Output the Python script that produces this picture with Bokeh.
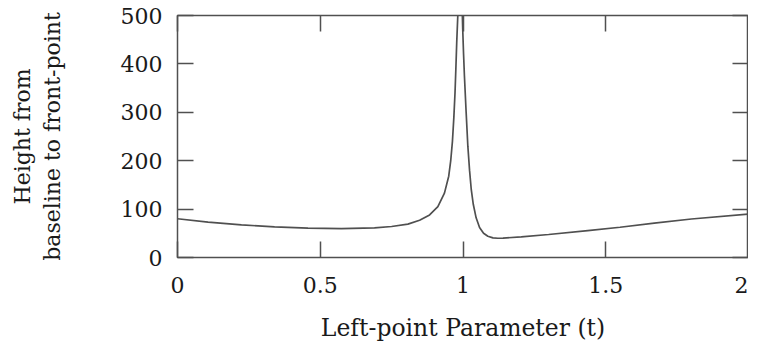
from bokeh.plotting import figure
from bokeh.models import LinearAxis, FixedTicker, Range1d
from bokeh.embed import file_html
from bokeh.resources import INLINE

# ---- data ----
t_vals = [0.0, 0.107, 0.224, 0.34, 0.457, 0.574, 0.69, 0.75, 0.807, 0.848,
          0.883, 0.912, 0.935, 0.950, 0.957, 0.963, 0.968, 0.972, 0.975, 0.978,
          0.982, 0.985, 0.996, 0.999, 1.002, 1.005, 1.011, 1.017, 1.023, 1.029,
          1.036, 1.046, 1.058, 1.072, 1.087, 1.105, 1.122, 1.14, 1.204,
          1.3, 1.437, 1.55, 1.67, 1.8, 2.0]
height_vals = [80, 73, 67.4, 63.3, 60.6, 59.8, 61.2, 64, 69, 77,
               88, 105, 133, 168, 200, 240, 290, 340, 390, 444,
               503, 560, 540, 472, 420, 375, 300, 230, 180, 140,
               110, 82, 62, 50, 44, 40.5, 39.8, 40.2, 42.5,
               47.5, 55.6, 62.5, 71, 79.5, 89.5]

x_ticks = [0, 0.5, 1, 1.5, 2]
x_tick_labels = ["0", "0.5", "1", "1.5", "2"]
y_ticks = [0, 100, 200, 300, 400, 500]
y_tick_labels = ["0", "100", "200", "300", "400", "500"]

x_label = "Left-point Parameter (t)"
y_label = "Height from\nbaseline to front-point"

FONT = "DejaVu Serif"
FS = "22px"
TXT = "#1a1a1a"
LINE = "#505050"

p = figure(frame_width=571, frame_height=242,
           min_border_left=177, min_border_right=0,
           min_border_top=15, min_border_bottom=79,
           x_range=Range1d(0, 2), y_range=Range1d(0, 500),
           output_backend="svg", toolbar_location=None,
           background_fill_color="white", border_fill_color="white")

p.grid.visible = False
p.outline_line_color = LINE
p.outline_line_width = 1.5

p.line(t_vals, height_vals, line_color=LINE, line_width=1.7)

def style_axis(ax, ticks, labels, show_labels=True):
    ax.ticker = FixedTicker(ticks=ticks)
    ax.axis_line_color = None
    ax.major_tick_line_color = LINE
    ax.major_tick_line_width = 1.5
    ax.major_tick_in = 16
    ax.major_tick_out = 0
    ax.minor_tick_line_color = None
    if show_labels:
        ax.major_label_overrides = {tk: lb for tk, lb in zip(ticks, labels)}
        ax.major_label_text_font = FONT
        ax.major_label_text_font_size = FS
        ax.major_label_text_color = TXT
    else:
        ax.major_label_overrides = {tk: "" for tk in ticks}
        ax.major_label_text_font_size = "0px"
        ax.major_label_standoff = 0

xa = p.xaxis[0]
style_axis(xa, x_ticks, x_tick_labels)
xa.major_label_standoff = 19
xa.axis_label = x_label
xa.axis_label_text_font = FONT
xa.axis_label_text_font_size = "23.5px"
xa.axis_label_text_font_style = "normal"
xa.axis_label_text_color = TXT
xa.axis_label_standoff = 18

ya = p.yaxis[0]
style_axis(ya, y_ticks, y_tick_labels)
ya.major_label_standoff = 15
ya.axis_label = y_label
ya.axis_label_text_font = FONT
ya.axis_label_text_font_size = FS
ya.axis_label_text_font_style = "normal"
ya.axis_label_text_color = TXT
ya.axis_label_standoff = 53

top = LinearAxis()
style_axis(top, x_ticks, x_tick_labels, show_labels=False)
p.add_layout(top, "above")
right = LinearAxis()
style_axis(right, y_ticks, y_tick_labels, show_labels=False)
p.add_layout(right, "right")

open("out.html", "w").write(file_html(p, INLINE))
